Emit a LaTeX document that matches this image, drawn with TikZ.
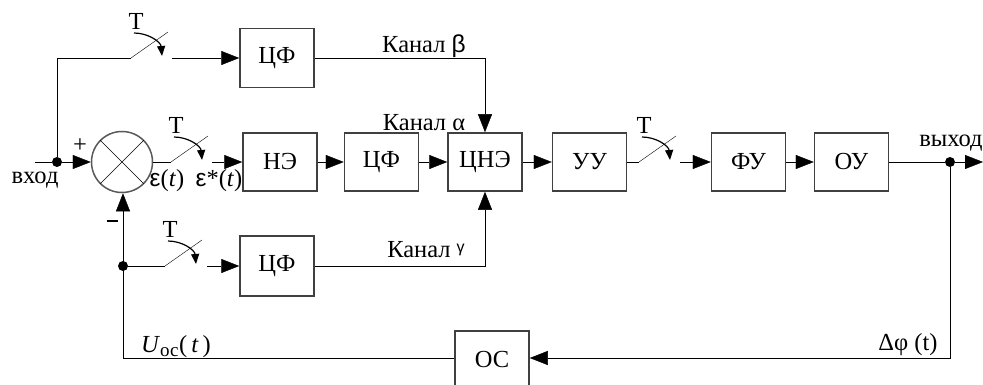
\documentclass[tikz,border=0pt]{standalone}
\usepackage{fontspec}
\setmainfont{Liberation Serif}
\newfontfamily\grk{Liberation Sans}
\usetikzlibrary{
  arrows.meta,
  positioning
}
\tikzset{
  x = 1pt,
  y = -1pt,
  >={Triangle[length=18pt,width=14pt]},
  line width = 1.7pt,
  font = \fontsize{24.5}{27}\selectfont,
  block/.style = {draw=black!75, line width=1.5pt, minimum width=74pt,
    minimum height=58pt, inner sep=0pt},
  summer/.style = {draw=black!65, line width=1.5pt, circle, minimum size=61pt,
    inner sep=0pt},
  junction/.style = {circle, fill, inner sep=0pt, minimum size=10pt},
  tick/.style = {line width=1.2pt, -{Triangle[length=10pt,width=8pt]}},
}

\begin{document}
\begin{tikzpicture}
  \useasboundingbox (0,0) rectangle (983,385);
  % main path
  \coordinate (in) at (35,162);
  \node[junction] (d1) at (57,162) {};
  \node[summer] (sum) at (122,162) {};
  \coordinate (swa) at (171,162);
  \coordinate (swa') at (212,162);
  \node[block] (ne) at (280,162) {НЭ};
  \node[block, right=26pt of ne] (cf2) {ЦФ};
  \node[block, right=28pt of cf2] (cne) {ЦНЭ};
  \node[block, right=29pt of cne] (uu) {УУ};
  \coordinate (swb) at (639,162);
  \coordinate (swb') at (680,162);
  \node[block] (fu) at (748.5,162) {ФУ};
  \node[block] (ou) at (851.5,162) {ОУ};
  \node[junction] (d2) at (950,162) {};
  \coordinate (out) at (983,162);
  % upper branch
  \coordinate (swd) at (131,58);
  \coordinate (swd') at (172,58);
  \node[block, minimum height=59pt] (cf1) at (277,58) {ЦФ};
  % lower branch
  \node[junction] (d3) at (123,266) {};
  \coordinate (swc) at (165,266);
  \coordinate (swc') at (207,266);
  \node[block, minimum height=60pt] (cf3) at (277,266) {ЦФ};
  % feedback
  \node[block] (oc) at (492,360) {ОС};

  \draw (sum.north west) -- (sum.south east) (sum.north east) -- (sum.south west);
  \foreach \s in {swa,swb,swc,swd} {
    \draw (\s) -- ++(37,-26);
    \node at ([shift={(5,-37)}]\s) {T};
    \draw[tick] ([shift={(3,-25)}]\s) to[out=0,in=95] ([shift={(31,-2)}]\s);
  }

  \draw (in) -- (d1);
  \draw[->] (d1) -- (sum);
  \draw (sum) -- (swa);
  \draw[->] (swa') -- (ne);
  \draw[->] (ne) -- (cf2);
  \draw[->] (cf2) -- (cne);
  \draw[->] (cne) -- (uu);
  \draw (uu) -- (swb);
  \draw[->] (swb') -- (fu);
  \draw[->] (fu) -- (ou);
  \draw (ou) -- (d2);
  \draw[->] (d2) -- (out);

  \draw (d1) |- (swd);
  \draw[->] (swd') -- (cf1);
  \draw[->] (cf1) -| (cne);

  \draw (d3) -- (swc);
  \draw[->] (swc') -- (cf3);
  \draw[->] (cf3) -| (cne);

  \draw[->] (d2) |- ([yshift=2pt]oc.east);
  \draw[->] ([yshift=2pt]oc.west) -| (sum.south -| d3);

  % labels
  \node at (35,180) {вход};
  \node at (80,146) {+};
  \node at (112,224) {\rule[0.25em]{11pt}{1.5pt}};
  \node at (167,181) {{\grk ε}(\textit{t})};
  \node at (219,181) {{\grk ε}*(\textit{t})};
  \node at (424,46) {Канал {\grk β}};
  \node at (424,123) {Канал α};
  \node at (426,250) {Канал {\grk\fontsize{16}{18}\selectfont\raisebox{0.35em}{γ}}};
  \node at (176,347) {\textit{U}\textsubscript{\fontsize{19}{20}\selectfont ос}(\,\textit{t}\,)};
  \node at (908,345) {Δφ (t)};
  \node at (951,143) {выход};
\end{tikzpicture}
\end{document}
